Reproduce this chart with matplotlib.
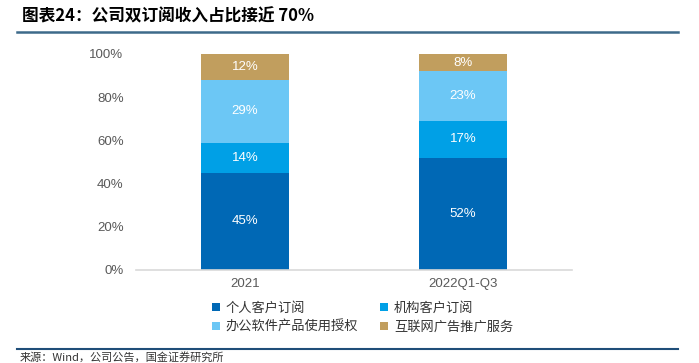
import matplotlib
matplotlib.use("Agg")
import matplotlib.pyplot as plt
from matplotlib.lines import Line2D
from matplotlib.patches import Patch

plt.rcParams['font.family'] = ['Noto Sans CJK SC', 'DejaVu Sans']

categories = ["2021", "2022Q1-Q3"]
series_names = ["个人客户订阅", "机构客户订阅", "办公软件产品使用授权", "互联网广告推广服务"]
personal = [45, 52]
institution = [14, 17]
office = [29, 23]
ads = [12, 8]
yticks = [0, 20, 40, 60, 80, 100]
ytick_labels = ["0%", "20%", "40%", "60%", "80%", "100%"]
title = "图表24：公司双订阅收入占比接近 70%"
source = "来源：Wind，公司公告，国金证券研究所"

colors = ["#0068B5", "#00A0E6", "#6CC7F5", "#C19E5E"]

W, H = 699, 363
fig = plt.figure(figsize=(W / 100, H / 100), dpi=100)
ax = fig.add_axes([136 / W, 1 - 270 / H, (572 - 136) / W, (270 - 54) / H])

x = list(range(len(categories)))
bottoms = [0] * len(categories)
for vals, col, name in zip([personal, institution, office, ads], colors, series_names):
    ax.bar(x, vals, width=0.405, bottom=bottoms, color=col, label=name, zorder=2)
    for xi, v, b in zip(x, vals, bottoms):
        ax.text(xi, b + v / 2, f"{v}%", ha="center", va="center", color="white",
                fontsize=9.5, family=["Liberation Sans", "DejaVu Sans"])
    bottoms = [b + v for b, v in zip(bottoms, vals)]

ax.set_xlim(-0.5, 1.5)
ax.set_ylim(0, 100)
ax.set_yticks(yticks)
ax.set_yticklabels(ytick_labels)
ax.set_xticks(x)
ax.set_xticklabels(categories)
for lab in ax.get_yticklabels() + ax.get_xticklabels():
    lab.set_fontfamily(["Liberation Sans", "DejaVu Sans"])
    lab.set_fontsize(9.5)
    lab.set_color("#595959")
ax.tick_params(axis="both", length=0)
ax.tick_params(axis="y", pad=9)
ax.tick_params(axis="x", pad=6)
for s in ["top", "right", "left"]:
    ax.spines[s].set_visible(False)
ax.spines["bottom"].set_color("#D9D9D9")
ax.spines["bottom"].set_linewidth(1.2)

# legend, row-major order like the reference
order = [0, 2, 1, 3]
handles = [Patch(facecolor=colors[i], edgecolor="none") for i in order]
labels = [series_names[i] for i in order]
leg = fig.legend(handles, labels, loc="upper left", bbox_to_anchor=(200 / W, 1 - 290 / H),
                 ncol=2, frameon=False, fontsize=9.5, handlelength=0.6, handleheight=0.6,
                 handletextpad=0.45, columnspacing=1.65, labelspacing=0.45, borderpad=0.4)
for t in leg.get_texts():
    t.set_color("#333333")

# title and lines
fig.text(22 / W, 1 - 16 / H, title, fontsize=12, fontweight="bold", style="italic",
         ha="left", va="center", color="black")
fig.add_artist(Line2D([17 / W, 678 / W], [1 - 31.5 / H, 1 - 31.5 / H], color="#3D6A8A", lw=1.8))
fig.add_artist(Line2D([17 / W, 678 / W], [1 - 349 / H, 1 - 349 / H], color="#1F4E79", lw=1.5))
fig.text(20 / W, 1 - 357 / H, source, fontsize=8, ha="left", va="center", color="#333333")

fig.savefig("out.png", dpi=100)
